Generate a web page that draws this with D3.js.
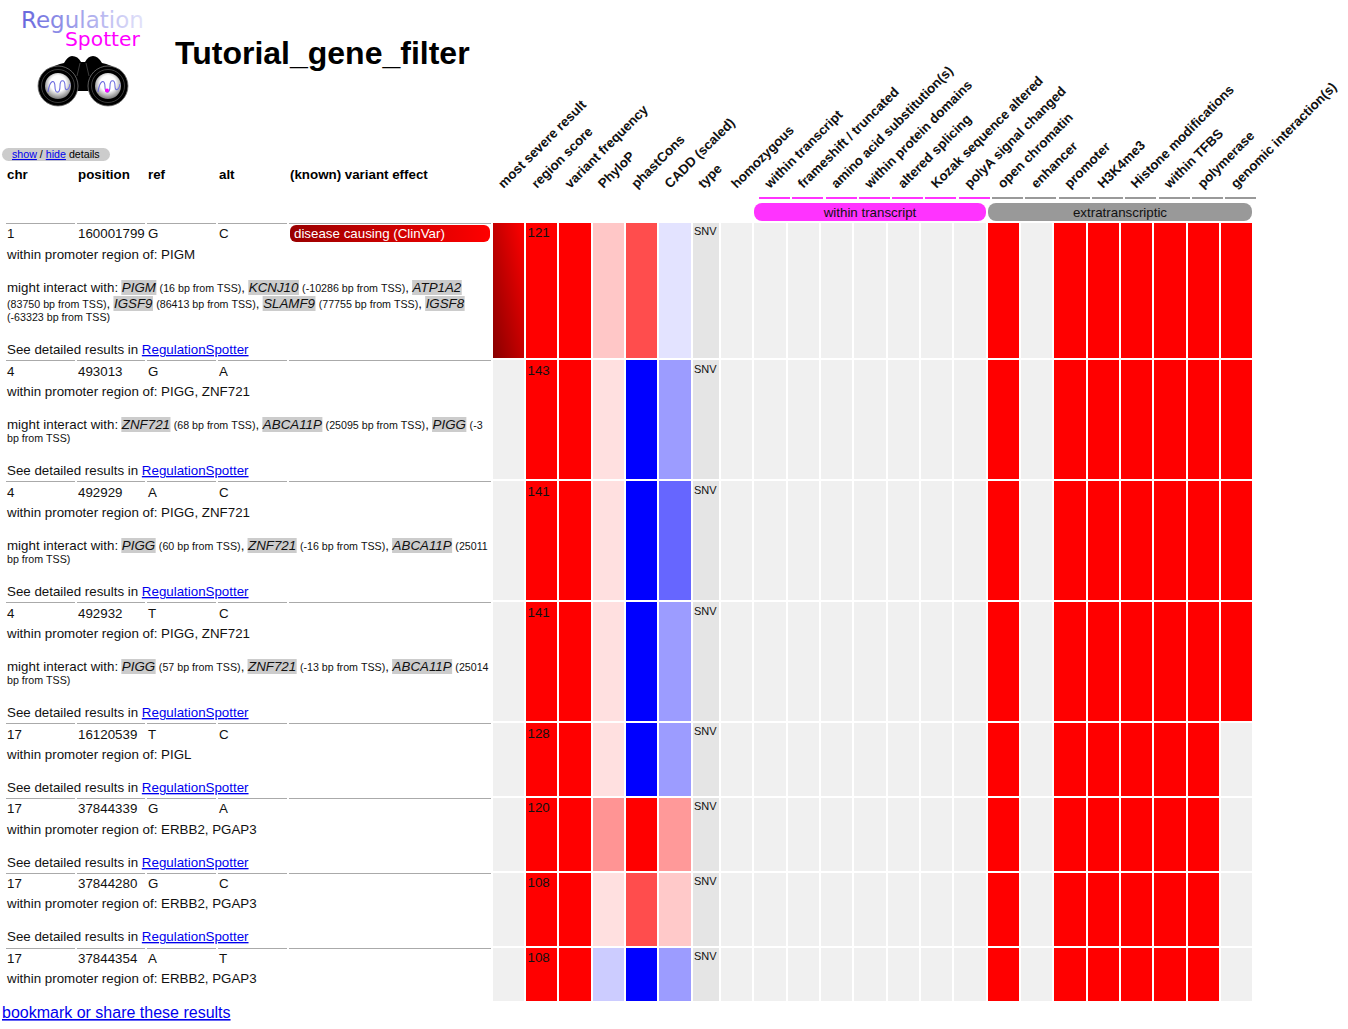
<!DOCTYPE html>
<html>
<head>
<meta charset="utf-8">
<title>Tutorial_gene_filter</title>
<script src="https://d3js.org/d3.v7.min.js"></script>
<style>
  html, body { margin: 0; padding: 0; background: #fff; }
  svg { display: block; font-family: "Liberation Sans", Arial, sans-serif; }
  .link { fill: #0000ee; text-decoration: underline; }
</style>
</head>
<body>
<svg id="canvas" width="1348" height="1029"></svg>
<script>
/************************************
// ** ------- DATA --------------- **
************************************/
const tableHeads = ['chr', 'position', 'ref', 'alt', '(known) variant effect'];

const columns = ['most severe result', 'region score', 'variant frequency', 'PhyloP', 'phastCons',
  'CADD (scaled)', 'type', 'homozygous', 'within transcript', 'frameshift / truncated',
  'amino acid substitution(s)', 'within protein domains', 'altered splicing', 'Kozak sequence altered',
  'polyA signal changed', 'open chromatin', 'enhancer', 'promoter', 'H3K4me3', 'Histone modifications',
  'within TFBS', 'polymerase', 'genomic interaction(s)'];

const groups = [
  {name: 'within transcript', first: 8, last: 14, color: '#ff33ff'},
  {name: 'extratranscriptic', first: 15, last: 22, color: '#999999'}
];

const chrs = ['1', '4', '4', '4', '17', '17', '17', '17'];
const positions = ['160001799', '493013', '492929', '492932', '16120539', '37844339', '37844280', '37844354'];
const refs = ['G', 'G', 'A', 'T', 'T', 'G', 'G', 'A'];
const alts = ['C', 'A', 'C', 'C', 'C', 'A', 'C', 'T'];
const promoters = ['PIGM', 'PIGG, ZNF721', 'PIGG, ZNF721', 'PIGG, ZNF721', 'PIGL', 'ERBB2, PGAP3', 'ERBB2, PGAP3', 'ERBB2, PGAP3'];
const interactions = [
  [['PIGM', 16], ['KCNJ10', -10286], ['ATP1A2', 83750], ['IGSF9', 86413], ['SLAMF9', 77755], ['IGSF8', -63323]],
  [['ZNF721', 68], ['ABCA11P', 25095], ['PIGG', -3]],
  [['PIGG', 60], ['ZNF721', -16], ['ABCA11P', 25011]],
  [['PIGG', 57], ['ZNF721', -13], ['ABCA11P', 25014]],
  [], [], [], []
];

const regionScores = [121, 143, 141, 141, 128, 120, 108, 108];
// colour-scale values, -1 (blue) .. 1 (red)
const variantFreq = [1, 1, 1, 1, 1, 1, 1, 1];
const phyloP = [0.22, 0.12, 0.12, 0.12, 0.12, 0.42, 0.12, -0.2];
const phastCons = [0.7, -1, -1, -1, -1, 1, 0.7, -1];
const cadd = [-0.11, -0.39, -0.6, -0.39, -0.39, 0.4, 0.21, -0.39];
const types = ['SNV', 'SNV', 'SNV', 'SNV', 'SNV', 'SNV', 'SNV', 'SNV'];

// binary hits, columns open chromatin .. genomic interaction(s)
const extraHits = [
  [1, 0, 1, 1, 1, 1, 1, 1],
  [1, 0, 1, 1, 1, 1, 1, 1],
  [1, 0, 1, 1, 1, 1, 1, 1],
  [1, 0, 1, 1, 1, 1, 1, 1],
  [1, 0, 1, 1, 1, 1, 1, 0],
  [1, 0, 1, 1, 1, 1, 1, 0],
  [1, 0, 1, 1, 1, 1, 1, 0],
  [1, 0, 1, 1, 1, 1, 1, 0]
];

/************************************
// ** ------- SCALES ------------- **
************************************/
const svg = d3.select('#canvas');
const defs = svg.append('defs');

const BLUE = '#0000ff', RED = '#ff0000', EMPTY = '#f0f0f0', TYPE_BG = '#e5e5e5';
const heat = d3.scaleLinear().domain([-1, 0, 1]).range([BLUE, '#ffffff', RED]);

// the type column is a bit narrower than the others
const columnUnits = columns.map(c => c === 'type' ? 0.841 : 1);
const columnStarts = [0, ...d3.cumsum(columnUnits)];
const x = d3.scaleLinear().domain([0, d3.sum(columnUnits)]).range([492.7, 1254.45]);
const colLeft = i => Math.round(x(columnStarts[i]));
const colRight = i => Math.round(x(columnStarts[i + 1])) - 2;
// the rotated heads and their ticks stay on an even grid, not on the cells
const headX = d3.scaleLinear().domain([0, columns.length]).range([492.6, 1258.5]);

const rowTops = [223, 360, 481, 602, 723, 798, 873, 948];
const rowBottoms = [358, 479, 600, 721, 796, 871, 946, 1001];
const nameCols = [6, 77, 147, 218, 289];
const nameColEnds = [75, 145, 216, 287, 491];
const textX = [7, 78, 148, 219];
// per row baseline offsets, the browser snapped these differently row to row
const firstLineY = [15, 16, 16, 16, 16, 15, 15, 15];
const scoreY = [14, 15, 15, 15, 15, 14, 14, 14];
const typeY = [12, 13, 13, 13, 12, 12, 12, 12];
const promoterY = [36, 36, 36, 36, 36, 36, 35, 35];
const seeBottomY = [4, 4, 4, 4, 4, 4, 5];

function cellColor(col, row) {
  if (col === 0) return EMPTY;
  if (col === 1) return RED;
  if (col === 2) return heat(variantFreq[row]);
  if (col === 3) return heat(phyloP[row]);
  if (col === 4) return heat(phastCons[row]);
  if (col === 5) return heat(cadd[row]);
  if (col === 6) return TYPE_BG;
  if (col < 15) return EMPTY;
  return extraHits[row][col - 15] ? RED : EMPTY;
}

/************************************
// ** ------- GRADIENTS ---------- **
************************************/
const grad = (id, x1, y1, x2, y2, stops) => {
  const g = defs.append('linearGradient').attr('id', id)
    .attr('x1', x1).attr('y1', y1).attr('x2', x2).attr('y2', y2);
  stops.forEach(s => g.append('stop').attr('offset', s[0]).attr('stop-color', s[1]));
};
grad('severe', 0, 1, 1, 0, [[0, '#880000'], [1, '#ff0000']]);
grad('badge', 0, 0, 1, 0, [[0, '#990000'], [1, '#ff0000']]);
grad('logoText', 0, 0, 1, 0, [[0, '#6666dd'], [1, '#e4e4fa']]);
const lens = defs.append('radialGradient').attr('id', 'lens').attr('cx', 0.5).attr('cy', 0.4).attr('r', 0.6);
lens.append('stop').attr('offset', 0.5).attr('stop-color', '#ffffff');
lens.append('stop').attr('offset', 1).attr('stop-color', '#777777');

/************************************
// ** ------- LOGO + TITLE ------- **
************************************/
const logo = svg.append('g');
logo.append('text').attr('x', 21).attr('y', 28).attr('font-family', 'DejaVu Sans').attr('font-size', 23)
  .attr('fill', 'url(#logoText)').text('Regulation');
logo.append('text').attr('x', 65).attr('y', 46).attr('font-family', 'DejaVu Sans').attr('font-size', 20.3)
  .attr('fill', '#ff00ff').text('Spotter');
logo.append('path').attr('fill', '#000')
  .attr('d', 'M44 72 Q56 64 64 63 Q68 56 72 56 Q78 56 81 62 L85 62 Q88 56 93 56 Q98 56 102 63 Q110 64 122 72 L100 91 L66 91 Z');
logo.append('path').attr('fill', 'none').attr('stroke', '#555').attr('stroke-width', 0.7).attr('d', 'M80 63 L77 76 M86 63 L89 76');
[[58, 86], [108, 86]].forEach((c, i) => {
  logo.append('circle').attr('cx', c[0]).attr('cy', c[1]).attr('r', 20).attr('fill', '#000').attr('stroke', '#777').attr('stroke-width', 0.8);
  logo.append('circle').attr('cx', c[0]).attr('cy', c[1]).attr('r', 16.5).attr('fill', 'none').attr('stroke', '#555').attr('stroke-width', 0.7);
  logo.append('circle').attr('cx', c[0]).attr('cy', c[1]).attr('r', 13).attr('fill', 'url(#lens)');
  const l = c[0] - 12;
  logo.append('path').attr('fill', 'none').attr('stroke', '#7070e0').attr('stroke-width', 1.1)
    .attr('d', `M${l + 2} 92 C${l + 4} 79 ${l + 9} 79 ${l + 9} 87 C${l + 9} 94 ${l + 14} 94 ${l + 14} 86 C${l + 14} 79 ${l + 19} 79 ${l + 19} 86 C${l + 19} 92 ${l + 23} 90 ${l + 24} 84`);
  if (i === 1) logo.append('circle').attr('cx', 107).attr('cy', 90.5).attr('r', 2).attr('fill', '#ff00ff');
});

svg.append('text').attr('x', 175).attr('y', 64).attr('font-size', 32).attr('font-weight', 'bold').text('Tutorial_gene_filter');

/************************************
// ** ------- TABLE HEAD --------- **
************************************/
svg.append('rect').attr('x', 2).attr('y', 148).attr('width', 108).attr('height', 13).attr('rx', 6.5).attr('fill', '#cccccc');
const sh = svg.append('text').attr('x', 12).attr('y', 158).attr('font-size', 10.67);
sh.append('tspan').attr('class', 'link').text('show');
sh.append('tspan').text(' / ');
sh.append('tspan').attr('class', 'link').text('hide');
sh.append('tspan').text(' details');

svg.append('g').selectAll('text').data(tableHeads).join('text')
  .attr('x', (d, i) => i < 4 ? textX[i] : 290)
  .attr('y', 179).attr('font-size', 13.33).attr('font-weight', 'bold').text(d => d);

// rotated column labels
svg.append('g').selectAll('text').data(columns).join('text')
  .attr('transform', (d, i) => `translate(${headX(i) + 11},189) rotate(-45)`)
  .attr('font-size', 13.33).attr('font-weight', 'bold').attr('fill', '#111').text(d => d);

// short ticks above the groups
columns.forEach((c, i) => {
  const g = groups.find(g => i >= g.first && i <= g.last);
  if (!g) return;
  svg.append('rect').attr('x', Math.round(headX(i))).attr('y', 197).attr('width', 31).attr('height', 2)
    .attr('fill', g.color);
});

const groupG = svg.append('g').selectAll('g').data(groups).join('g');
groupG.append('rect')
  .attr('x', d => colLeft(d.first)).attr('y', 203)
  .attr('width', d => colRight(d.last) - colLeft(d.first)).attr('height', 18)
  .attr('rx', 8).attr('fill', d => d.color);
groupG.append('text')
  .attr('x', d => (colLeft(d.first) + colRight(d.last)) / 2).attr('y', 217)
  .attr('text-anchor', 'middle').attr('font-size', 13.33).attr('fill', '#111').text(d => d.name);

/************************************
// ** ------- HEATMAP ------------ **
************************************/
const cells = svg.append('g');
rowTops.forEach((top, r) => {
  cells.selectAll(null).data(columns).join('rect')
    .attr('x', (d, c) => colLeft(c)).attr('y', top)
    .attr('width', (d, c) => colRight(c) - colLeft(c)).attr('height', rowBottoms[r] - top)
    .attr('fill', (d, c) => (r === 0 && c === 0) ? 'url(#severe)' : cellColor(c, r));
  cells.append('text').attr('x', colLeft(1) + 1.5).attr('y', top + scoreY[r]).attr('font-size', 13.33).attr('fill', '#111').text(regionScores[r]);
  cells.append('text').attr('x', colLeft(6) + 1).attr('y', top + typeY[r]).attr('font-size', 11).attr('fill', '#111').text(types[r]);
});

/************************************
// ** ------- ROW DETAILS -------- **
************************************/
const BASE = 13.33, SMALL = 10.67, WRAP_END = 491;
const measure = svg.append('text').attr('visibility', 'hidden');
function widthOf(str, size, italic) {
  measure.attr('font-size', size).attr('font-style', italic ? 'italic' : 'normal').text(str);
  return measure.node().getComputedTextLength();
}
const spaceOf = size => widthOf('a a', size) - widthOf('aa', size);

// lays out "might interact with" as inline runs, wrapping like the page did
function drawInteractions(list, startY) {
  const LINE_X = 7;
  const runs = [{t: 'might', s: BASE}, {t: 'interact', s: BASE}, {t: 'with:', s: BASE}];
  list.forEach((d, i) => {
    runs.push({t: d[0], s: BASE, gene: true});
    const words = `(${d[1]} bp from TSS)`.split(' ');
    words.forEach((w, j) => {
      const last = j === words.length - 1;
      runs.push({t: w, s: SMALL, comma: last && i < list.length - 1});
    });
  });

  // first break into lines, a line without a gene name sits closer to the one above
  const lines = [[]];
  let cx = LINE_X;
  runs.forEach(run => {
    run.w = widthOf(run.t, run.s, run.gene);
    run.commaW = run.comma ? widthOf(',', BASE) : 0;
    if (cx + run.w + run.commaW > WRAP_END) {
      lines.push([]);
      cx = LINE_X;
    }
    run.x = cx;
    lines[lines.length - 1].push(run);
    cx += run.w + run.commaW + spaceOf(run.comma ? BASE : run.s);
  });

  let cy = startY;
  lines.forEach((line, n) => {
    if (n > 0) cy += line.some(r => r.gene) ? 16 : 13;
    line.forEach(run => {
      if (run.gene) {
        svg.append('rect').attr('x', run.x - 0.5).attr('y', cy - 12).attr('width', run.w + 1).attr('height', 15).attr('fill', '#cccccc');
      }
      svg.append('text').attr('x', run.x).attr('y', cy).attr('font-size', run.s)
        .attr('font-style', run.gene ? 'italic' : 'normal').attr('fill', '#111').text(run.t);
      if (run.comma) {
        svg.append('text').attr('x', run.x + run.w).attr('y', cy).attr('font-size', BASE).attr('fill', '#111').text(',');
      }
    });
  });
}

rowTops.forEach((top, r) => {
  nameCols.forEach((x0, i) => {
    svg.append('rect').attr('x', x0).attr('y', top).attr('width', nameColEnds[i] - x0).attr('height', 1).attr('fill', '#aaaaaa');
  });
  const firstLine = [chrs[r], positions[r], refs[r], alts[r]];
  firstLine.forEach((t, i) => {
    svg.append('text').attr('x', textX[i]).attr('y', top + firstLineY[r]).attr('font-size', BASE).attr('fill', '#111').text(t);
  });
  svg.append('text').attr('x', 7).attr('y', top + promoterY[r]).attr('font-size', BASE).attr('fill', '#111')
    .text('within promoter region of: ' + promoters[r]);
  if (interactions[r].length) drawInteractions(interactions[r], top + 69);
  if (r < 7) {
    const s = svg.append('text').attr('x', 7).attr('y', rowBottoms[r] - seeBottomY[r]).attr('font-size', BASE).attr('fill', '#111');
    s.append('tspan').text('See detailed results in ');
    s.append('tspan').attr('class', 'link').text('RegulationSpotter');
  }
});

// clinvar badge on the first row only
svg.append('rect').attr('x', 290).attr('y', 225).attr('width', 200).attr('height', 17).attr('rx', 6).attr('fill', 'url(#badge)');
svg.append('text').attr('x', 294).attr('y', 238).attr('font-size', BASE).attr('fill', '#fff').text('disease causing (ClinVar)');

svg.append('text').attr('class', 'link').attr('x', 2).attr('y', 1018).attr('font-size', 16).text('bookmark or share these results');
measure.remove();
</script>
</body>
</html>
